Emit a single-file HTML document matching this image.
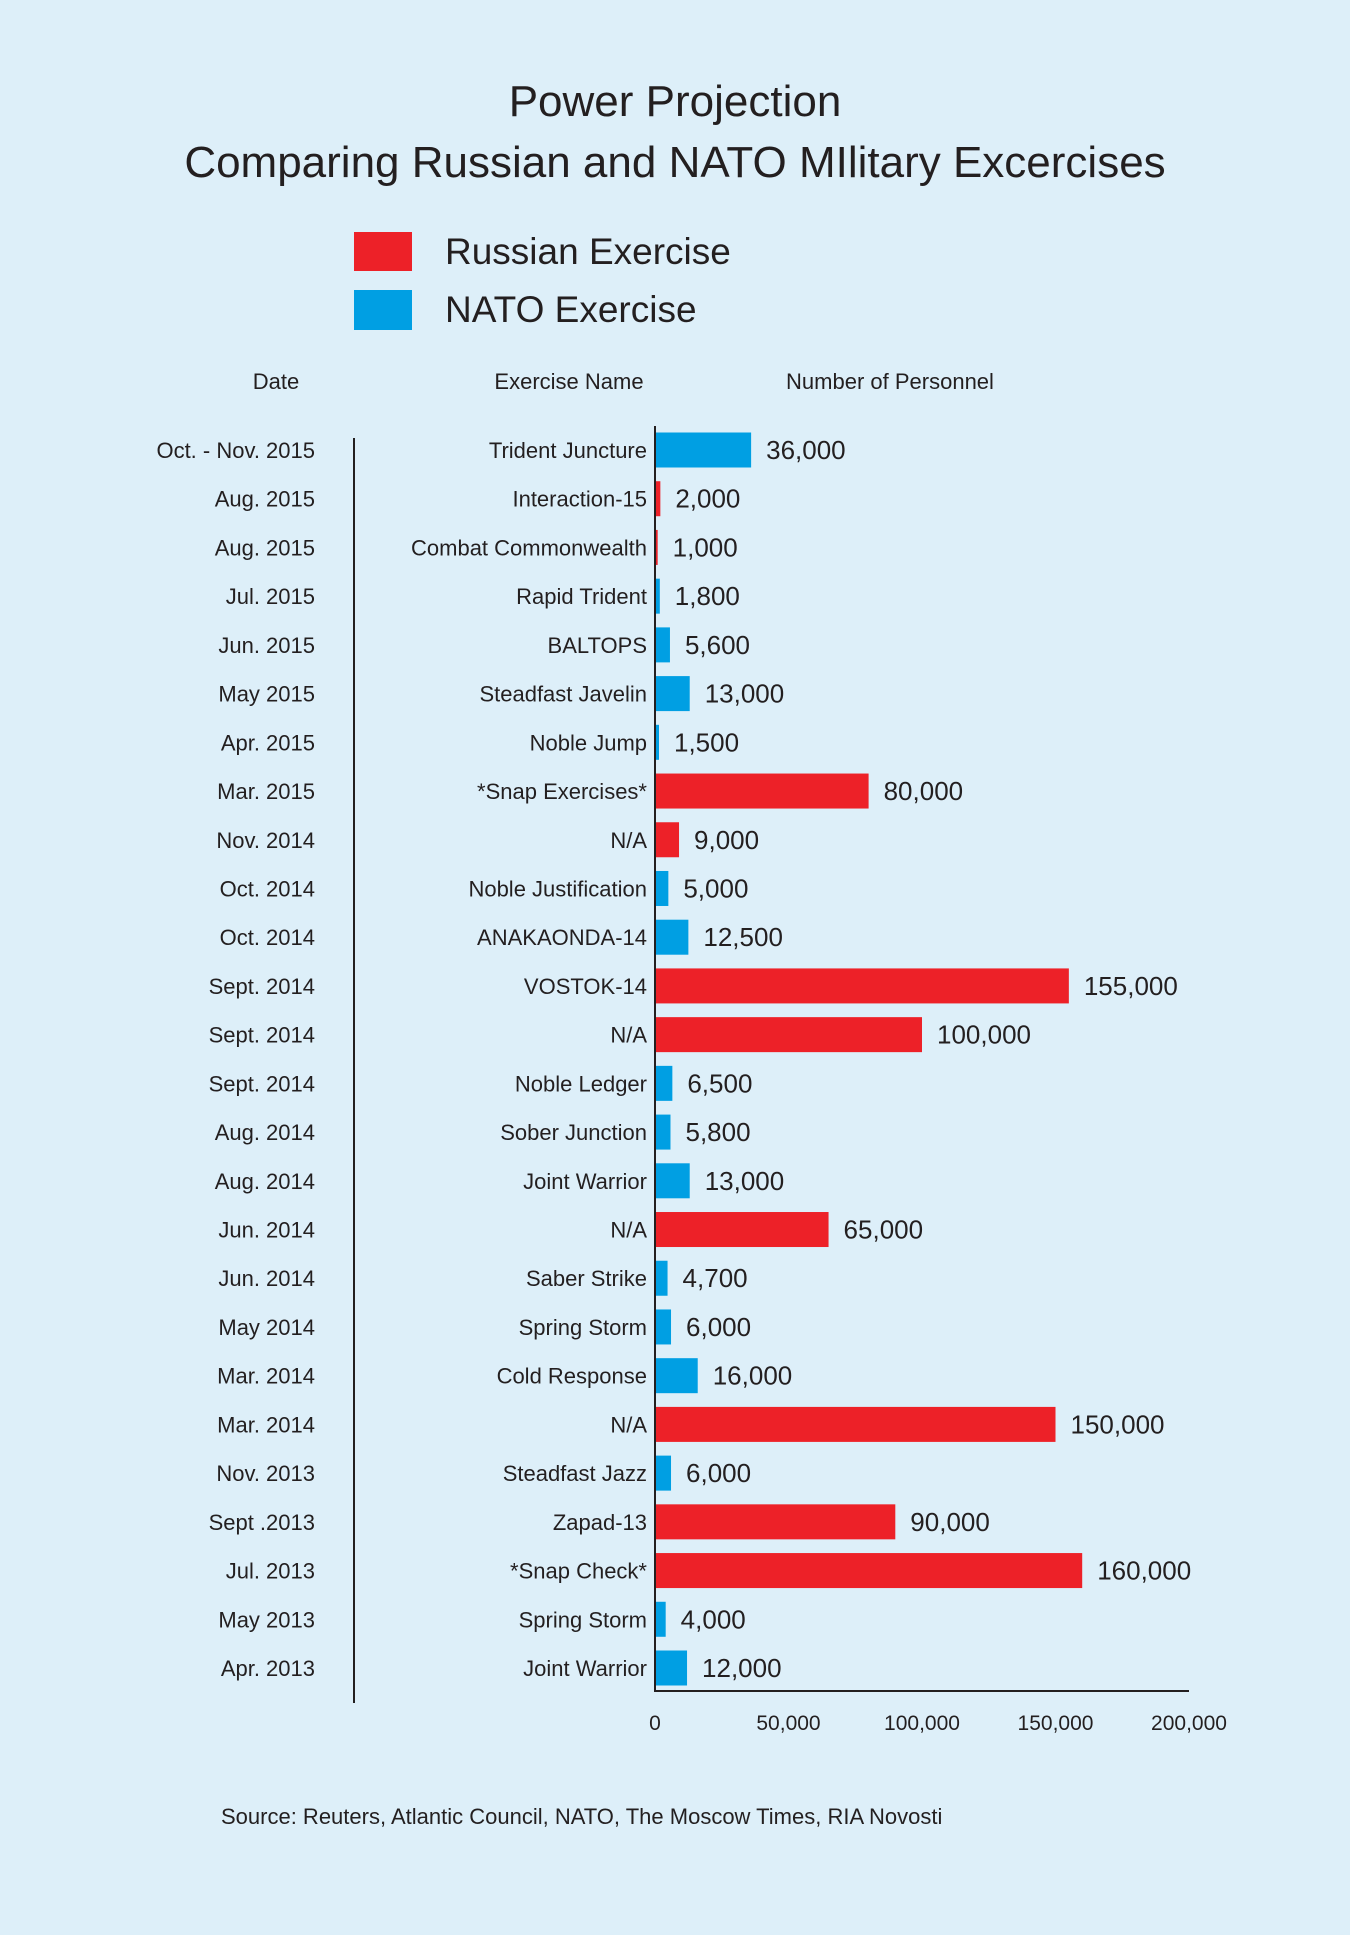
<!DOCTYPE html>
<html><head><meta charset="utf-8"><style>
html,body{margin:0;padding:0;background:#ddeff9;}
svg{display:block;font-family:"Liberation Sans",sans-serif;}
</style></head><body>
<svg width="1350" height="1935" viewBox="0 0 1350 1935">
<rect width="1350" height="1935" fill="#ddeff9"/>
<text x="675" y="116" text-anchor="middle" font-size="44" fill="#231f20">Power Projection</text>
<text x="675" y="177" text-anchor="middle" font-size="44" fill="#231f20">Comparing Russian and NATO MIlitary Excercises</text>
<rect x="354" y="232" width="58" height="39" fill="#ed2128"/>
<text x="445" y="264" font-size="37" fill="#231f20">Russian Exercise</text>
<rect x="354" y="290" width="58" height="40" fill="#009fe3"/>
<text x="445" y="322" font-size="37" fill="#231f20">NATO Exercise</text>
<text x="276" y="389" text-anchor="middle" font-size="22" fill="#231f20">Date</text>
<text x="569" y="389" text-anchor="middle" font-size="22" fill="#231f20">Exercise Name</text>
<text x="890" y="389" text-anchor="middle" font-size="22" fill="#231f20">Number of Personnel</text>
<line x1="354" y1="438" x2="354" y2="1703" stroke="#231f20" stroke-width="2"/>
<g id="marks"></g>
<line x1="655" y1="426" x2="655" y2="1692" stroke="#231f20" stroke-width="2"/>
<line x1="655" y1="1691" x2="1189" y2="1691" stroke="#231f20" stroke-width="2"/>
<g id="ticks"></g>
<text x="221" y="1824" font-size="22" fill="#231f20">Source: Reuters, Atlantic Council, NATO, The Moscow Times, RIA Novosti</text>
</svg>
<script>
const dates=["Oct. - Nov. 2015","Aug. 2015","Aug. 2015","Jul. 2015","Jun. 2015","May 2015","Apr. 2015","Mar. 2015","Nov. 2014","Oct. 2014","Oct. 2014","Sept. 2014","Sept. 2014","Sept. 2014","Aug. 2014","Aug. 2014","Jun. 2014","Jun. 2014","May 2014","Mar. 2014","Mar. 2014","Nov. 2013","Sept .2013","Jul. 2013","May 2013","Apr. 2013"];
const names=["Trident Juncture","Interaction-15","Combat Commonwealth","Rapid Trident","BALTOPS","Steadfast Javelin","Noble Jump","*Snap Exercises*","N/A","Noble Justification","ANAKAONDA-14","VOSTOK-14","N/A","Noble Ledger","Sober Junction","Joint Warrior","N/A","Saber Strike","Spring Storm","Cold Response","N/A","Steadfast Jazz","Zapad-13","*Snap Check*","Spring Storm","Joint Warrior"];
const values=[36000,2000,1000,1800,5600,13000,1500,80000,9000,5000,12500,155000,100000,6500,5800,13000,65000,4700,6000,16000,150000,6000,90000,160000,4000,12000];
const sides=["N","R","R","N","N","N","N","R","R","N","N","R","R","N","N","N","R","N","N","N","R","N","R","R","N","N"];
const ticks=[0,50000,100000,150000,200000];
const NS="http://www.w3.org/2000/svg";
const x=v=>655+v/200000*534;
const y=i=>450+i*48.72;
const g=document.getElementById('marks');
function mk(tag,attrs,parent){const e=document.createElementNS(NS,tag);for(const k in attrs)e.setAttribute(k,attrs[k]);parent.appendChild(e);return e;}
values.forEach((v,i)=>{
  const cy=y(i);
  const d=mk('text',{x:315,y:cy+8,'text-anchor':'end','font-size':22,fill:'#231f20'},g);d.textContent=dates[i];
  
  
  const n=mk('text',{x:647,y:cy+8,'text-anchor':'end','font-size':22,fill:'#231f20'},g);n.textContent=names[i];
  
  
  const b=mk('rect',{x:655,y:cy-17.5,width:Math.max(x(v)-655,2),height:35,fill:sides[i]==="R"?"#ed2128":"#009fe3"},g);
  
  
  const t=mk('text',{x:x(v)+15,y:cy+9,'font-size':26,fill:'#231f20'},g);t.textContent=v.toLocaleString('en-US');
  
  
});
const tg=document.getElementById('ticks');
ticks.forEach(v=>{
  const t=mk('text',{x:x(v),y:1730,'text-anchor':'middle','font-size':21,fill:'#231f20'},tg);t.textContent=v.toLocaleString('en-US');
  
  
});
</script>
</body></html>
